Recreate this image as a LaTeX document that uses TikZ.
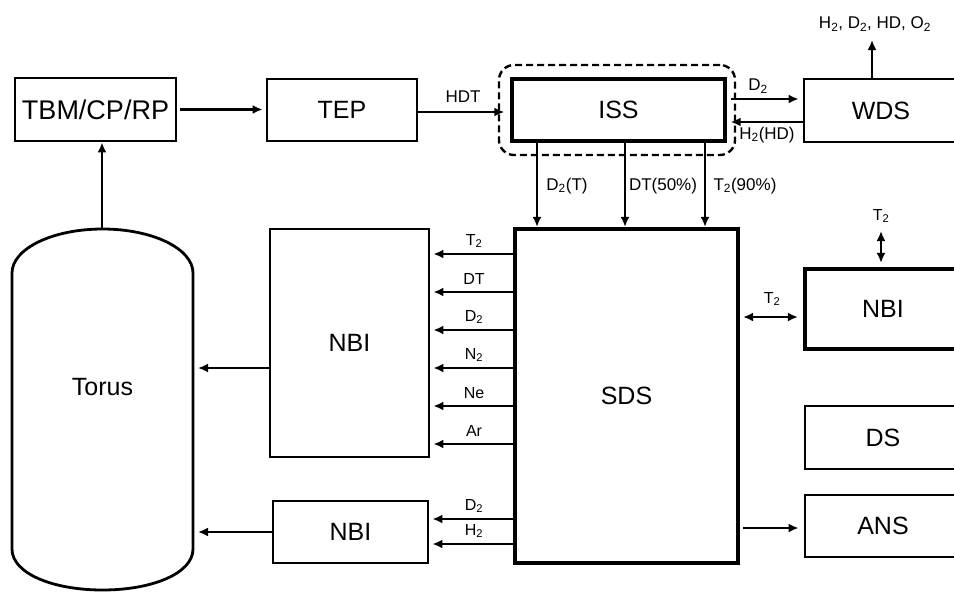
\documentclass[tikz,border=0pt]{standalone}
\usepackage{fontspec}
\setmainfont{Liberation Sans}
\usetikzlibrary{arrows.meta}
\begin{document}
\begin{tikzpicture}[x=1pt,y=-1pt,
  box/.style={draw, line width=2.8pt, inner sep=0pt, font=\fontsize{25}{30}\selectfont},
  thickbox/.style={box, line width=4.2pt},
  arr/.style={line width=2.8pt, -{Latex[length=10pt,width=9pt]}},
  darr/.style={line width=2.8pt, {Latex[length=10pt,width=9pt]}-{Latex[length=10pt,width=9pt]}},
  lbl/.style={font=\fontsize{17}{20}\selectfont, inner sep=0pt},
  slbl/.style={font=\fontsize{16}{18}\selectfont, inner sep=0pt}
]
\useasboundingbox (0,0) rectangle (954,592);
\clip (0,0) rectangle (954,592);

% boxes
\node[box, minimum width=161pt, minimum height=63pt, font=\fontsize{27}{30}\selectfont] (tbm) at (95.5,109.5) {TBM/CP/RP};
\node[box, minimum width=150pt, minimum height=62pt] (tep) at (342,110) {TEP};
\node[box, line width=3.4pt, minimum width=213pt, minimum height=62pt] (iss) at (618.5,110) {ISS};
\node[draw, line width=2.4pt, dash pattern=on 7pt off 4pt, rounded corners=15pt,
      minimum width=236pt, minimum height=90pt] (grp) at (617,110) {};
\node[box, minimum width=154pt, minimum height=63pt] (wds) at (881,110.5) {WDS};
\node[thickbox, minimum width=223pt, minimum height=334pt] (sds) at (626.5,396) {SDS};
\node[box, minimum width=159pt, minimum height=228pt] (nbia) at (349.5,343) {NBI};
\node[box, minimum width=155pt, minimum height=62pt] (nbib) at (350.5,532) {NBI};
\node[thickbox, minimum width=156pt, minimum height=80pt] (nbic) at (883,309) {NBI};
\node[box, minimum width=156pt, minimum height=63pt] (ds) at (883,437.5) {DS};
\node[box, minimum width=156pt, minimum height=62pt] (ans) at (883,526) {ANS};

% torus
\draw[line width=2.8pt] (12,273) -- (12,549)
  .. controls (12,573.3) and (52.5,590) .. (102.5,590)
  .. controls (152.5,590) and (193,573.3) .. (193,549)
  -- (193,273)
  .. controls (193,248.7) and (152.5,229) .. (102.5,229)
  .. controls (52.5,229) and (12,248.7) .. (12,273) -- cycle;
\node[font=\fontsize{25}{30}\selectfont] (torus) at (102.5,387) {Torus};
\coordinate (torustop) at (102,229);
\coordinate (torusright) at (193,0);

% top row connectors
\draw[arr] (torustop) -- (torustop |- tbm.south);
\draw[arr, shorten <=3pt, shorten >=3pt] (tbm.east) -- (tbm.east -| tep.west);
\draw[arr, shorten >=6pt] (tep.east |- 0,112) -- (iss.west |- 0,112);
\node[lbl] (lhdt) at (463,97) {HDT};
\draw[arr, shorten <=4pt, shorten >=4pt] (iss.east |- 0,99) -- (wds.west |- 0,99);
\node[lbl] (ld2) at (758,86) {D\textsubscript{2}};
\draw[arr, shorten >=4pt] (wds.west |- 0,122) -- (iss.east |- 0,122);
\node[lbl] (lh2hd) at (767,135) {H\textsubscript{2}(HD)};
\coordinate (wdsup) at (872,40);
\draw[arr] (wdsup |- wds.north) -- (wdsup);
\node[lbl] (lwds) at (875,24) {H\textsubscript{2}, D\textsubscript{2}, HD, O\textsubscript{2}};

% ISS -> SDS
\coordinate (c1) at (537,0);
\coordinate (c2) at (625,0);
\coordinate (c3) at (705,0);
\draw[arr] (c1 |- iss.south) -- (c1 |- sds.north);
\draw[arr] (c2 |- iss.south) -- (c2 |- sds.north);
\draw[arr] (c3 |- iss.south) -- (c3 |- sds.north);
\node[lbl] (ld2t) at (567,186) {D\textsubscript{2}(T)};
\node[lbl] (ldt) at (663,186) {DT(50\%)};
\node[lbl] (lt2) at (745,186) {T\textsubscript{2}(90\%)};

% SDS -> NBI (large)
\foreach \yy/\tt in {254/T\textsubscript{2}, 292/DT, 330/D\textsubscript{2}, 368/N\textsubscript{2}, 406/Ne, 444/Ar}{
  \draw[arr, shorten >=3pt] (sds.west |- 0,\yy) -- (nbia.east |- 0,\yy);
  \node[slbl] at (474,\yy-13) {\tt};
}
% SDS -> NBI (small)
\draw[arr, shorten >=3pt] (sds.west |- 0,519) -- (nbib.east |- 0,519);
\node[slbl] (ld2b) at (474,506) {D\textsubscript{2}};
\draw[arr, shorten >=3pt] (sds.west |- 0,544) -- (nbib.east |- 0,544);
\node[slbl] (lh2b) at (474,531) {H\textsubscript{2}};

% NBI -> Torus
\draw[arr, shorten >=5pt] (nbia.west |- 0,368) -- (torusright |- 0,368);
\draw[arr, shorten >=5pt] (nbib.west |- 0,532) -- (torusright |- 0,532);

% right side
\draw[darr, shorten <=3pt, shorten >=5pt] (sds.east |- 0,317) -- (nbic.west |- 0,317);
\node[slbl] (lt2r) at (772,299) {T\textsubscript{2}};
\coordinate (nbup) at (881,231);
\draw[darr, shorten >=4pt] (nbup) -- (nbup |- nbic.north);
\node[slbl] (lt2u) at (881,216) {T\textsubscript{2}};
\draw[arr, shorten <=3pt, shorten >=5pt] (sds.east |- 0,528) -- (ans.west |- 0,528);
\end{tikzpicture}
\end{document}
